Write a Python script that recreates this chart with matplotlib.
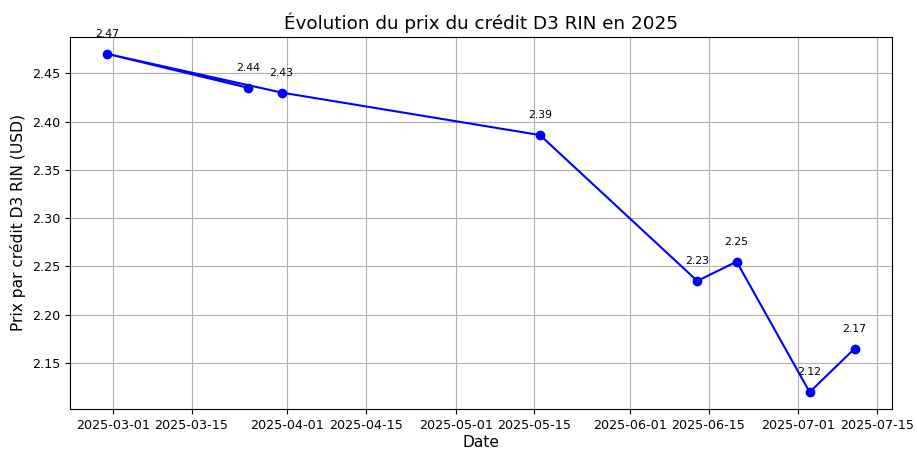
import pandas as pd
import matplotlib
matplotlib.use('Agg')
import matplotlib.pyplot as plt

# Données (ordre d'origine conservé)
dates = ['2025-03-25', '2025-02-28', '2025-03-31', '2025-05-16',
         '2025-06-13', '2025-06-20', '2025-07-03', '2025-07-11']
prix = [2.435, 2.47, 2.43, 2.386, 2.235, 2.255, 2.12, 2.165]

dates = pd.to_datetime(dates)

fig = plt.figure(figsize=(9.17, 4.5), dpi=100)
ax = fig.add_axes([0.0763, 0.0911, 0.8964, 0.8267])

ax.plot(dates, prix, marker='o', linestyle='-', color='blue', markersize=6, linewidth=1.5)
for d, p in zip(dates, prix):
    ax.annotate(f"{p:.2f}", (d, p), textcoords="offset points", xytext=(0, 12),
                ha='center', fontsize=7.8)

ax.set_title("Évolution du prix du crédit D3 RIN en 2025", fontsize=13.2)
ax.set_xlabel("Date", fontsize=11.2, labelpad=2)
ax.set_ylabel("Prix par crédit D3 RIN (USD)", fontsize=11.2)
ax.tick_params(labelsize=9.2)
ax.grid(True)

fig.savefig('out.png', dpi=100)
